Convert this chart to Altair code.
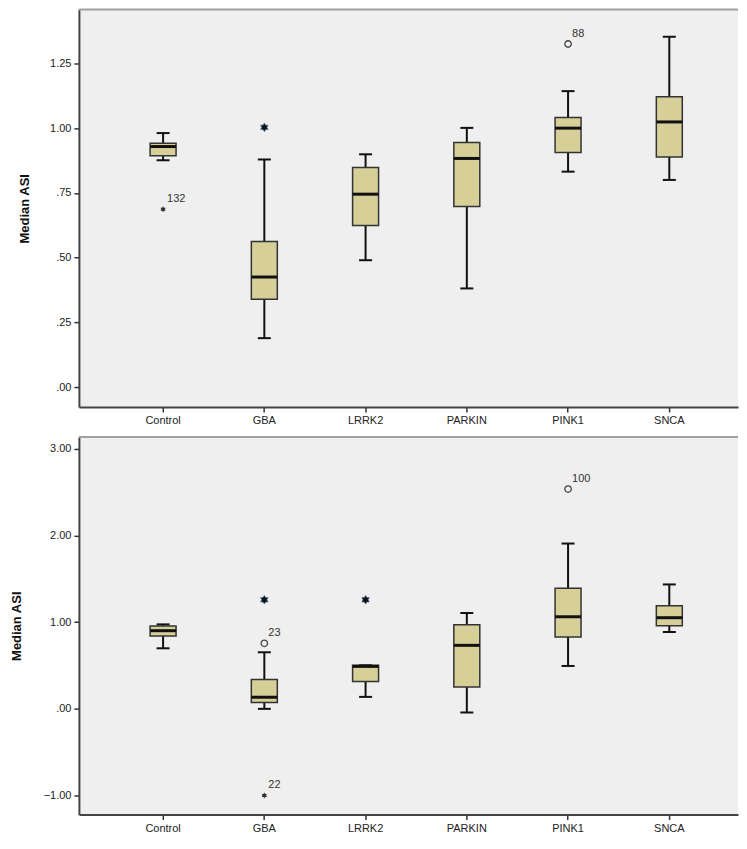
import altair as alt
import pandas as pd

groups = ["Control", "GBA", "LRRK2", "PARKIN", "PINK1", "SNCA"]

# ---- top panel (box statistics) ----
top_low = [0.876, 0.189, 0.490, 0.381, 0.832, 0.800]
top_q1 = [0.893, 0.339, 0.624, 0.697, 0.906, 0.889]
top_med = [0.929, 0.425, 0.745, 0.883, 1.000, 1.024]
top_q3 = [0.942, 0.562, 0.848, 0.945, 1.041, 1.121]
top_high = [0.981, 0.879, 0.899, 1.001, 1.143, 1.353]

top_out_group = ["Control", "GBA", "PINK1"]
top_out_value = [0.687, 1.003, 1.325]
top_out_kind = ["star", "extreme", "circle"]
top_out_label = ["132", "", "88"]

top_ticks = [0.0, 0.25, 0.5, 0.75, 1.0, 1.25]

# ---- bottom panel ----
bot_low = [0.699, 0.000, 0.138, -0.042, 0.495, 0.887]
bot_q1 = [0.841, 0.073, 0.315, 0.253, 0.829, 0.960]
bot_med = [0.902, 0.134, 0.490, 0.733, 1.063, 1.052]
bot_q3 = [0.956, 0.338, 0.503, 0.971, 1.393, 1.190]
bot_high = [0.975, 0.653, 0.503, 1.106, 1.908, 1.436]

bot_out_group = ["GBA", "GBA", "GBA", "LRRK2", "PINK1"]
bot_out_value = [1.259, 0.756, -1.000, 1.259, 2.537]
bot_out_kind = ["extreme", "circle", "star", "extreme", "circle"]
bot_out_label = ["", "23", "22", "", "100"]

bot_ticks = [-1.0, 0.0, 1.0, 2.0, 3.0]

FONT = "Liberation Sans"
BOX_FILL = "#d6cf98"
W = 660

STAR = ("M0,-1L0.3,-0.52L0.866,-0.5L0.6,0L0.866,0.5L0.3,0.52L0,1"
        "L-0.3,0.52L-0.866,0.5L-0.6,0L-0.866,-0.5L-0.3,-0.52Z")

LABEL_EXPR = "replace(format(datum.value, '.2f'), '0.', '.')"


def panel(low, q1, med, q3, high, og, ov, ok, ol, domain, ticks, height, title_pad):
    box = pd.DataFrame({"group": groups, "low": low, "q1": q1, "med": med,
                        "q3": q3, "high": high})
    out = pd.DataFrame({"group": og, "value": ov, "kind": ok, "label": ol})

    xenc = alt.X("group:N",
                 scale=alt.Scale(domain=groups, paddingInner=0,
                                 paddingOuter=0.255, align=0.65),
                 axis=alt.Axis(title=None, labelAngle=0, labelPadding=3,
                               tickSize=5, domainWidth=2, tickWidth=1.5))
    ys = alt.Scale(domain=domain, nice=False, zero=False)
    yaxis = alt.Axis(values=ticks, labelExpr=LABEL_EXPR, grid=False,
                     tickSize=5, labelPadding=3, minExtent=36, maxExtent=36,
                     titlePadding=title_pad, domainWidth=2, tickWidth=1.5)
    T = "Median ASI"

    base = alt.Chart(box).encode(x=xenc)
    whisk = base.mark_rule(color="#111", strokeWidth=2).encode(
        y=alt.Y("low:Q", scale=ys, axis=yaxis, title=T),
        y2="high:Q")
    cap_lo = base.mark_tick(color="#111", size=13, thickness=2,
                            opacity=1).encode(y=alt.Y("low:Q", title=T))
    cap_hi = base.mark_tick(color="#111", size=13, thickness=2,
                            opacity=1).encode(y=alt.Y("high:Q", title=T))
    boxes = base.mark_bar(size=26, fill=BOX_FILL, stroke="#333",
                          strokeWidth=1.5).encode(
        y=alt.Y("q1:Q", title=T), y2="q3:Q")
    meds = base.mark_tick(color="#111", size=26, thickness=3,
                          opacity=1).encode(y=alt.Y("med:Q", title=T))

    obase = alt.Chart(out).encode(x=xenc, y=alt.Y("value:Q", title=T))
    circ = obase.transform_filter(alt.datum.kind == "circle").mark_point(
        shape="circle", filled=False, size=42, color="#444",
        strokeWidth=1.3, opacity=1)
    star = obase.transform_filter(alt.datum.kind == "star").mark_point(
        shape=STAR, filled=True, size=36, color="#333", opacity=1)
    ext = obase.transform_filter(alt.datum.kind == "extreme").mark_point(
        shape=STAR, filled=True, size=75, color="#111", opacity=1,
        stroke="#4f6f96", strokeWidth=0.7)
    labs = obase.mark_text(align="left", baseline="middle", dx=4, dy=-10,
                           font=FONT, fontSize=11, color="#333").encode(
        text="label:N")

    border = alt.Chart(pd.DataFrame({"a": [0]})).mark_rule(
        color="#a0a0a0", strokeWidth=2).encode(
        x=alt.value(0), x2=alt.value(W), y=alt.value(0))

    return alt.layer(whisk, cap_lo, cap_hi, boxes, meds, circ, star, ext,
                     labs, border).properties(width=W, height=height)


top = panel(top_low, top_q1, top_med, top_q3, top_high,
            top_out_group, top_out_value, top_out_kind, top_out_label,
            [-0.077, 1.458], top_ticks, 398, 11)
bot = panel(bot_low, bot_q1, bot_med, bot_q3, bot_high,
            bot_out_group, bot_out_value, bot_out_kind, bot_out_label,
            [-1.219, 3.138], bot_ticks, 378, 19)

chart = alt.vconcat(top, bot, spacing=10).properties(
    padding={"left": 3, "top": 0, "right": 0, "bottom": 0},
    background="white"
).configure_view(
    fill="#efefef", strokeWidth=0
).configure_axis(
    labelFont=FONT, labelFontSize=11, labelColor="#222",
    titleFont=FONT, titleFontSize=13, titleFontWeight="bold",
    titleColor="#111", domainColor="#444", tickColor="#333"
)

chart.save("out.html", embed_options={"renderer": "svg", "actions": False})
